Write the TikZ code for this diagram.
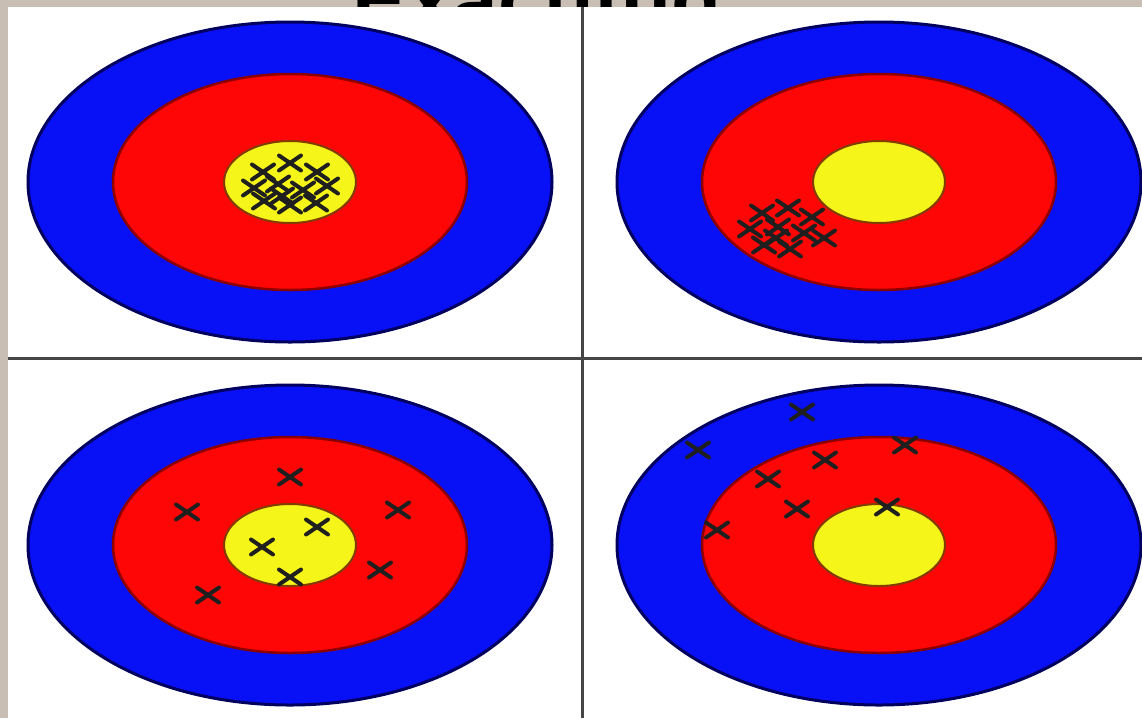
\documentclass[tikz,border=0pt]{standalone}
\usepackage{fontspec}
\setmainfont{Liberation Sans}
\definecolor{bgray}{RGB}{200,190,180}
\definecolor{tblue}{RGB}{8,16,245}
\definecolor{tnavy}{RGB}{0,0,95}
\definecolor{tred}{RGB}{255,6,6}
\definecolor{tdred}{RGB}{140,0,0}
\definecolor{tyellow}{RGB}{245,245,25}
\definecolor{tbrown}{RGB}{130,60,0}
\definecolor{divgray}{RGB}{70,70,70}
\begin{document}
\begin{tikzpicture}[x=1pt,y=-1pt,
  bluering/.style={fill=tblue,draw=tnavy,line width=3pt},
  redring/.style={fill=tred,draw=tdred,line width=2.5pt},
  yellowring/.style={fill=tyellow,draw=tbrown,line width=2pt},
  crossline/.style={draw=black!88,line width=4pt,line cap=round},
  divider/.style={draw=divgray,line width=3pt},
  target/.pic={
    \path[bluering] (0,0) ellipse [x radius=262pt,y radius=160pt];
    \path[redring] (0,0) ellipse [x radius=177pt,y radius=108pt];
    \path[yellowring] (0,0) ellipse [x radius=66pt,y radius=41pt];
  },
  xmark/.pic={\path[crossline] (-11,-7.5)--(11,7.5) (-11,7.5)--(11,-7.5);}
]
\useasboundingbox (0,0) rectangle (1142,718);
% background and title (mostly hidden by the panel)
\fill[bgray] (0,0) rectangle (1142,718);
\node[font=\bfseries\fontsize{82}{82}\selectfont,anchor=base,inner sep=0pt] (title) at (537,28) {Exactitud};
\fill[white] (8,7) rectangle (1142,718);
% targets
\pic at (290,182) {target};
\pic at (879,182) {target};
\pic at (290,545) {target};
\pic at (879,545) {target};
% top-left: precise and accurate
\foreach \p in {(290,163),(263,172),(317,172),(254,188),(278,184),(303,190),(327,186),(264,201),(290,205),(316,203),(282,196)}
  \pic at \p {xmark};
% top-right: precise, not accurate
\foreach \p in {(762,213),(788,208),(812,217),(750,229),(778,227),(804,233),(824,238),(764,245),(790,249),(776,238)}
  \pic at \p {xmark};
% bottom-left: accurate, not precise
\foreach \p in {(290,477),(187,512),(398,510),(317,527),(262,547),(290,577),(380,570),(208,595)}
  \pic at \p {xmark};
% bottom-right: neither
\foreach \p in {(802,412),(698,450),(905,445),(825,460),(768,479),(797,509),(887,507),(717,530)}
  \pic at \p {xmark};
% dividers
\coordinate (vtop) at (582,7);
\coordinate (vbot) at (582,718);
\coordinate (hleft) at (8,358);
\coordinate (hright) at (1142,358);
\draw[divider] (vtop) -- (vbot);
\draw[divider] (hleft) -- (hright);
\end{tikzpicture}
\end{document}
